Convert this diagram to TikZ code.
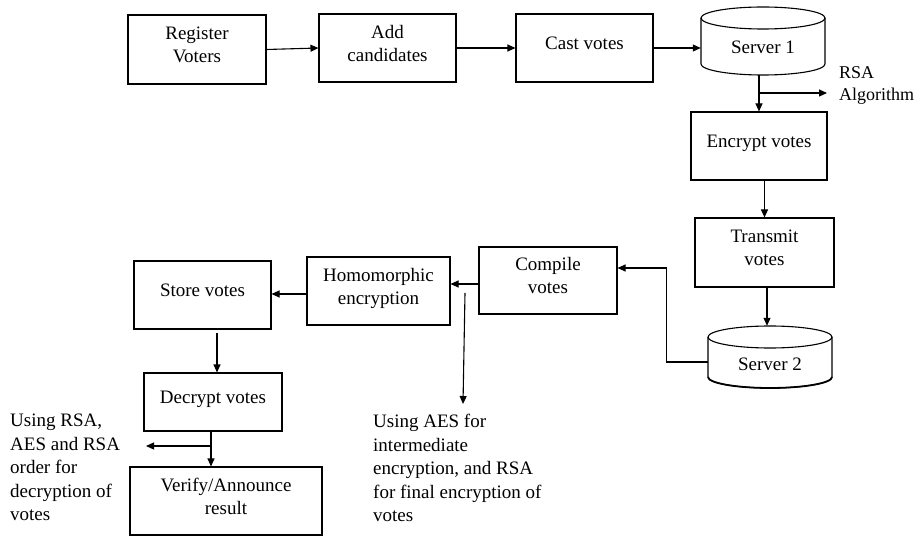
\documentclass[tikz,border=0pt]{standalone}
\usepackage{fontspec}
\setmainfont{Liberation Serif}
\usetikzlibrary{arrows.meta,calc}
\begin{document}
\begin{tikzpicture}[x=1pt,y=-1pt,
  box/.style={draw, line width=1.1pt, align=center, inner sep=2pt, font=\fontsize{19}{23}\selectfont,
    execute at end node={\rule[-10pt]{0pt}{10pt}}},
  arr/.style={line width=1.1pt, -{Triangle[length=8pt,width=7pt]}},
  lbl/.style={align=left, inner sep=0pt, font=\fontsize{19}{23.5}\selectfont},
  cyl/.style={line width=1.1pt}]
\useasboundingbox (0,0) rectangle (921,537);
% boxes
\node[box, minimum width=138pt, minimum height=69pt] (reg) at (197,49.5) {Register\\Voters};
\node[box, minimum width=137pt, minimum height=68pt] (add) at (387.5,48) {Add\\candidates};
\node[box, minimum width=137pt, minimum height=68pt] (cast) at (584.5,48) {Cast votes};
\node[box, minimum width=136pt, minimum height=68pt] (enc) at (759,146) {Encrypt votes};
\node[box, minimum width=139pt, minimum height=69pt] (trans) at (764.5,252.5) {Transmit\\votes};
\node[box, minimum width=138pt, minimum height=67pt] (comp) at (548,280.5) {Compile\\votes};
\node[box, minimum width=143pt, minimum height=68pt] (homo) at (378.5,291) {Homomorphic\\encryption};
\node[box, minimum width=137pt, minimum height=68pt] (store) at (202.5,295) {Store votes};
\node[box, minimum width=138pt, minimum height=58pt] (dec) at (213,402) {Decrypt votes};
\node[box, minimum width=192pt, minimum height=68pt] (ver) at (226,501) {Verify/Announce\\result};
% cylinders
\node[minimum width=124pt, minimum height=68pt, inner sep=0pt] (s1) at (763,41) {};
\draw[cyl] (701,18) -- (701,64) arc[start angle=180,end angle=360,x radius=62pt,y radius=11pt] -- (825,18);
\draw[cyl] (763,18) ellipse[x radius=62pt,y radius=11pt];
\node[font=\fontsize{19}{23}\selectfont] at (763,47) {Server 1};
\node[minimum width=124pt, minimum height=62pt, inner sep=0pt] (s2) at (770,357) {};
\draw[cyl] (708,337) -- (708,377) arc[start angle=180,end angle=360,x radius=62pt,y radius=11pt] -- (832,337);
\draw[line width=1.8pt] (708,377) arc[start angle=180,end angle=360,x radius=62pt,y radius=11pt];
\draw[cyl] (770,337) ellipse[x radius=62pt,y radius=11pt];
\node[font=\fontsize{19}{23}\selectfont] at (770,364) {Server 2};
% labels
\node[lbl, anchor=west, font=\fontsize{18}{22}\selectfont] (rsa) at (839,85) {RSA\\Algorithm};
\node[lbl, anchor=north west] (aes) at (373,414) {Using AES for\\intermediate\\encryption, and RSA\\for final encryption of\\votes};
\node[lbl, anchor=north west] (dlbl) at (10,414) {Using RSA,\\AES and RSA\\order for\\decryption of\\votes};
% connectors
\draw[arr] (reg.east) -- (add.west);
\draw[arr] (add.east) -- (cast.west);
\draw[arr] (cast.east) -- (cast.east -| s1.west);
\draw[arr] (enc.north |- s1.south) -- (enc.north);
\coordinate (rb) at (759,93);
\coordinate (rbend) at (827,93);
\draw[arr] (rb) -- (rbend);
\draw[arr] (trans.north |- enc.south) -- (trans.north);
\coordinate (ts) at (767,287);
\draw[arr] (ts) -- (ts |- s2.north);
\draw[arr] ([yshift=-5pt]s2.west) -- ++(-41,0) |- ([yshift=12.5pt]comp.east);
\coordinate (ch) at (479,284);
\draw[arr] (ch) -- (ch -| homo.east);
\coordinate (astart) at (465,293);
\coordinate (aend) at (463,404);
\draw[arr] (astart) -- (aend);
\coordinate (hs) at (307,294);
\draw[arr] (hs) -- (hs -| store.east);
\coordinate (sd) at (217,333);
\draw[arr] (sd) -- (sd |- dec.north);
\coordinate (dv) at (211,431);
\draw[arr] (dv) -- (dv |- ver.north);
\coordinate (db) at (211,446);
\coordinate (dbend) at (146,446);
\draw[arr] (db) -- (dbend);
\end{tikzpicture}
\end{document}
